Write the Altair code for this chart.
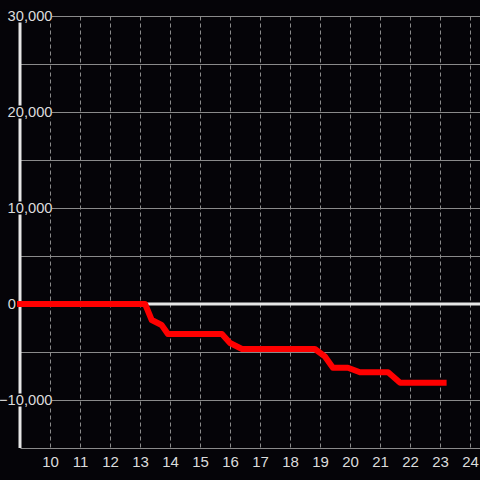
import altair as alt
import pandas as pd
import jinja2
from altair.utils.html import HTML_TEMPLATE

# ---- data ----
hours = [9.0, 13.17, 13.39, 13.72, 13.93, 15.73, 16.0, 16.4, 18.83, 19.17, 19.43, 19.93, 20.33, 21.27, 21.67, 23.12]
pnl = [0, 0, -1667, -2188, -3125, -3125, -4063, -4688, -4688, -5490, -6635, -6635, -7115, -7115, -8198, -8198]
x_ticks = list(range(10, 25))
y_grid = list(range(-15000, 30001, 5000))
y_labels = [30000, 20000, 10000, 0, -10000]

BG = "#050408"
FG = "#dcdcdc"
GRID = "#8a8a8a"
FONT = "Liberation Sans"

df = pd.DataFrame({"h": hours, "p": pnl})
lab = pd.DataFrame({"v": y_labels})

xs = alt.Scale(domain=[9, 24.333], nice=False, zero=False)
ys = alt.Scale(domain=[-15000, 30000], nice=False, zero=False)

line = alt.Chart(df).mark_line(
    color="#ff0000", strokeWidth=6, strokeCap="square", strokeJoin="round"
).encode(
    x=alt.X("h:Q", scale=xs, axis=alt.Axis(
        values=x_ticks, grid=True, gridDash=[4, 3], gridColor=GRID, gridWidth=1,
        domain=False, ticks=False, tickSize=0, labelPadding=6, labelColor=FG,
        labelFontSize=15, labelFont=FONT, title=None, labelFlush=False,
        labelOverlap=False, labelBound=False)),
    y=alt.Y("p:Q", scale=ys, axis=alt.Axis(
        values=y_grid, grid=True, gridColor=GRID, gridWidth=1, domain=False,
        ticks=False, tickSize=0, labels=False, title=None)),
)

one = pd.DataFrame({"z": [0]})
axis_line = alt.Chart(one).mark_rule(color="#e6e6e6", strokeWidth=3).encode(
    x=alt.value(0), y=alt.value(0), y2=alt.value(432)
)
zero_line = alt.Chart(one).mark_rule(color="#e6e6e6", strokeWidth=3).encode(
    y=alt.Y("z:Q", scale=ys)
)

boxes = alt.Chart(lab).transform_filter("datum.v != 0").transform_calculate(
    y1="datum.v - 680", y2="datum.v + 680"
).mark_rect(color=BG, opacity=1).encode(
    x=alt.value(-18), x2=alt.value(32),
    y=alt.Y("y1:Q", scale=ys), y2="y2:Q"
)

labels_nz = alt.Chart(lab).transform_filter("datum.v != 0").mark_text(
    align="right", baseline="middle", fontSize=14.7, font=FONT, color=FG, dy=1
).encode(
    x=alt.value(32.5), y=alt.Y("v:Q", scale=ys), text=alt.Text("v:Q", format=",")
)
labels_z = alt.Chart(lab).transform_filter("datum.v == 0").mark_text(
    align="right", baseline="middle", fontSize=14.7, font=FONT, color=FG, dy=1
).encode(
    x=alt.value(-4), y=alt.Y("v:Q", scale=ys), text=alt.Text("v:Q", format=",")
)

chart = alt.layer(axis_line, zero_line, line, boxes, labels_nz, labels_z).properties(
    width=460, height=432,
    background=BG,
    padding={"left": 20, "top": 16, "right": 0, "bottom": 32},
    autosize=alt.AutoSizeParams(type="none"),
).configure_view(stroke=None)


class BgTemplate(jinja2.Template):
    def render(self, *args, **kwargs):
        html = HTML_TEMPLATE.render(*args, **kwargs)
        style = "<style>html,body{margin:0;padding:0;background:%s;}</style>" % BG
        if "<head>" in html:
            return html.replace("<head>", "<head>\n" + style, 1)
        return style + html


chart.save("out.html", embed_options={"renderer": "svg", "actions": False}, template=BgTemplate(""))
